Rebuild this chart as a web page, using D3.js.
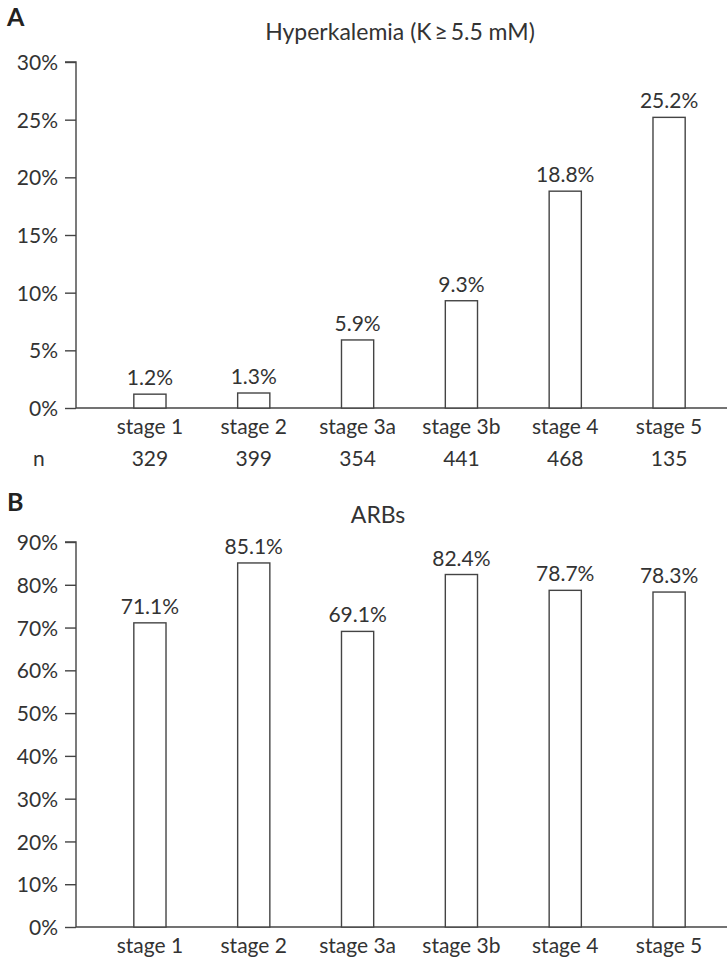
<!DOCTYPE html>
<html><head><meta charset="utf-8">
<script src="https://cdn.jsdelivr.net/npm/d3@7"></script>
<style>
body{margin:0;background:#fff;}
text{font-family:Lato,"Open Sans",sans-serif;fill:#333;}
</style></head>
<body><svg id="c" width="728" height="964"></svg>
<script>
const categories = ["stage 1","stage 2","stage 3a","stage 3b","stage 4","stage 5"];
const hyperkalemia = [1.2, 1.3, 5.9, 9.3, 18.8, 25.2];
const nCounts = [329, 399, 354, 441, 468, 135];
const arbs = [71.1, 85.1, 69.1, 82.4, 78.7, 78.3];
const ticksA = [0,5,10,15,20,25,30];
const ticksB = [0,10,20,30,40,50,60,70,80,90];

const svg = d3.select("#c");
const ink = "#444";
const fs = 21;

const x = d3.scaleBand().domain(categories).range([98, 721]).paddingInner(0.69).paddingOuter(0.345);

function panel(opts){
  const g = svg.append("g");
  const y = d3.scaleLinear().domain([0, opts.max]).range([opts.y0, opts.y1]);
  g.append("text").attr("x", 7).attr("y", opts.letterY).text(opts.letter)
    .style("font-family","Lato, sans-serif").style("font-weight","bold").style("font-size","25px").style("fill","#222");
  g.append("text").attr("x", opts.titleX).attr("y", opts.titleY).attr("text-anchor","middle")
    .style("font-size", "23px").text(opts.title);
  const ax = d3.axisLeft(y).tickValues(opts.ticks).tickSize(11).tickPadding(7).tickFormat(d => d + "%");
  const ga = g.append("g").attr("transform","translate(76,0)").call(ax);
  ga.select(".domain").attr("stroke", ink).attr("stroke-width",1.4).attr("d", `M-11,${opts.y1}H0V${opts.y0}`);
  ga.selectAll(".tick line").attr("stroke", ink).attr("stroke-width",1.4);
  ga.selectAll(".tick text").style("font-size", fs+"px").style("fill","#333")
    .style("font-family","Lato, sans-serif").attr("dy","0.36em");
  g.append("line").attr("x1",76).attr("x2",727).attr("y1",opts.y0).attr("y2",opts.y0)
    .attr("stroke",ink).attr("stroke-width",1.4);
  g.selectAll("rect.bar").data(opts.values).enter().append("rect")
    .attr("x",(d,i)=>x(categories[i])).attr("width",x.bandwidth())
    .attr("y",d=>y(d)).attr("height",d=>opts.y0 - y(d))
    .attr("fill","#fff").attr("stroke",ink).attr("stroke-width",1.4);
  g.selectAll("text.val").data(opts.values).enter().append("text")
    .attr("x",(d,i)=>x(categories[i]) + x.bandwidth()/2).attr("y",d=>y(d)-9)
    .attr("text-anchor","middle").style("font-size",fs+"px").text(d=>d.toFixed(1)+"%");
  g.selectAll("text.cat").data(categories).enter().append("text")
    .attr("x",d=>x(d)+x.bandwidth()/2).attr("y",opts.catY)
    .attr("text-anchor","middle").style("font-size",fs+"px").text(d=>d);
  return g;
}

const gA = panel({letter:"A", letterY:26, title:"Hyperkalemia (K\u2009\u2265\u20095.5 mM)", titleX:400, titleY:40,
  max:30, y0:408, y1:62, ticks:ticksA, values:hyperkalemia, catY:434});
gA.append("text").attr("x",33).attr("y",466).style("font-size",fs+"px").text("n");
gA.selectAll("text.n").data(nCounts).enter().append("text")
  .attr("x",(d,i)=>x(categories[i]) + x.bandwidth()/2).attr("y",466)
  .attr("text-anchor","middle").style("font-size",fs+"px").text(d=>d);

panel({letter:"B", letterY:511, title:"ARBs", titleX:378, titleY:523,
  max:90, y0:927, y1:542, ticks:ticksB, values:arbs, catY:953});
</script></body></html>
